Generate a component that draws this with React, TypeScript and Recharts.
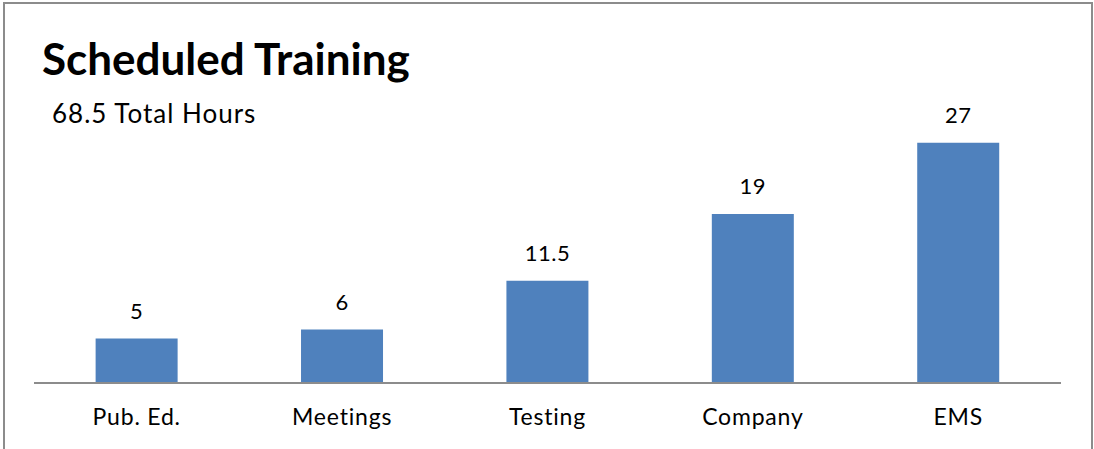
import { BarChart, Bar, XAxis, YAxis, LabelList } from "recharts";

const categories = ["Pub. Ed.", "Meetings", "Testing", "Company", "EMS"];
const hours = [5, 6, 11.5, 19, 27];

const chartData = categories.map((name, i) => ({ name, hours: hours[i] }));

const FONT = "Lato, 'Open Sans', sans-serif";

export default function App() {
  return (
    <div
      style={{
        position: "absolute",
        left: 0,
        top: 0,
        width: 1094,
        height: 449,
        overflow: "hidden",
        background: "#fff",
        fontFamily: FONT,
      }}
    >
      {/* outer frame, bottom edge runs off the page */}
      <div
        style={{
          position: "absolute",
          left: 3,
          top: 2,
          width: 1086,
          height: 480,
          border: "2px solid #8c8c8c",
        }}
      />
      <div
        style={{
          position: "absolute",
          left: 42,
          top: 32,
          fontSize: 44,
          fontWeight: 700,
          color: "#000",
          lineHeight: "52px",
        }}
      >
        Scheduled Training
      </div>
      <div
        style={{
          position: "absolute",
          left: 52,
          top: 97,
          fontSize: 26,
          letterSpacing: 1,
          color: "#000",
          lineHeight: "32px",
        }}
      >
        68.5 Total Hours
      </div>
      <div style={{ position: "absolute", left: 0, top: 0 }}>
        <BarChart
          width={1094}
          height={449}
          data={chartData}
          margin={{ top: 116, right: 33, bottom: 0, left: 34 }}
          barCategoryGap="30%"
        >
          <XAxis
            dataKey="name"
            height={66}
            stroke="#8c8c8c"
            strokeWidth={2}
            tickLine={false}
            tickSize={0}
            tickMargin={26}
            tick={{ fill: "#000", fontSize: 23, letterSpacing: 0.8, fontFamily: FONT }}
          />
          <YAxis hide domain={[0, 30]} />
          <Bar dataKey="hours" fill="#4F81BD" isAnimationActive={false}>
            <LabelList
              dataKey="hours"
              position="top"
              offset={20}
              fill="#000"
              fontSize={22}
              letterSpacing={0.5}
              fontFamily={FONT}
            />
          </Bar>
        </BarChart>
      </div>
    </div>
  );
}
